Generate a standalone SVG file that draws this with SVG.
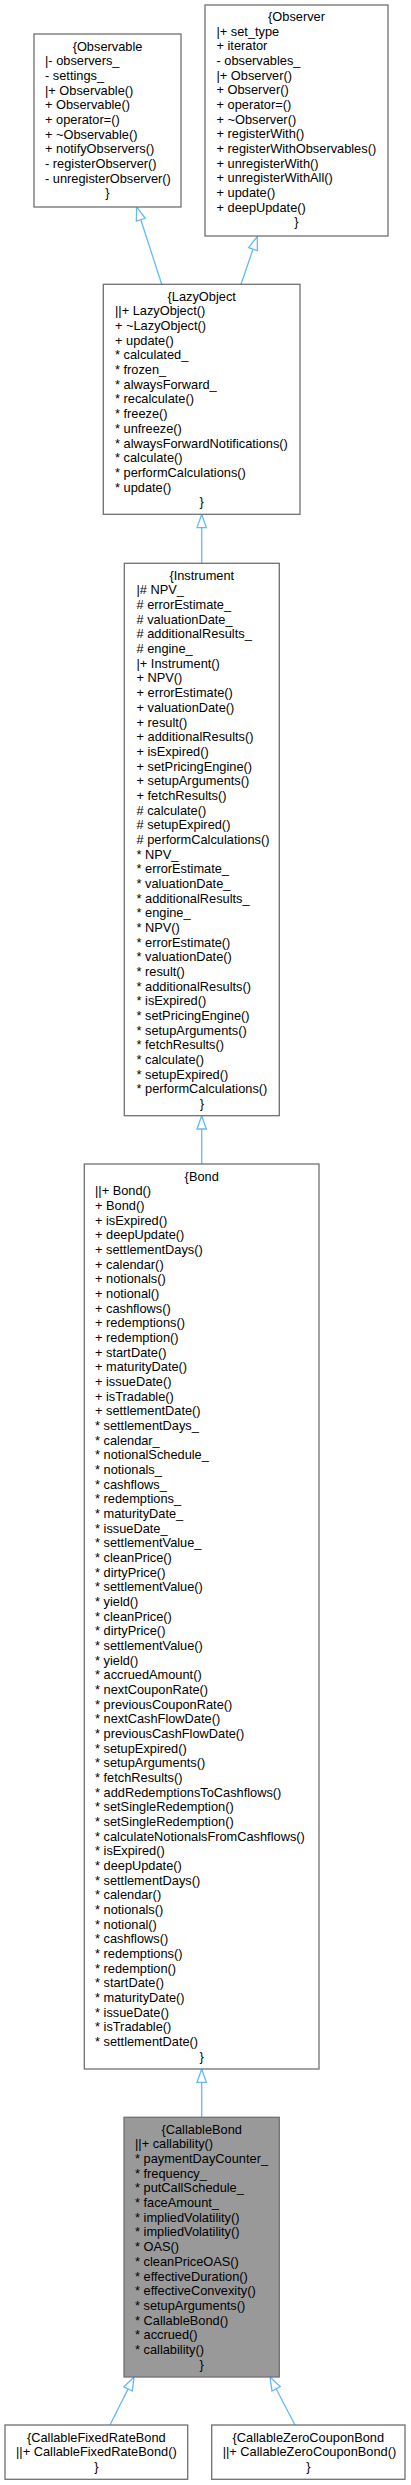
<svg xmlns="http://www.w3.org/2000/svg" width="411" height="2485" viewBox="0 0 411 2485">
<style>
.box{fill:#ffffff;stroke:#707070;stroke-width:1.3}
.cur{fill:#999999;stroke:#707070;stroke-width:1.3}
.t{font-family:"Liberation Sans",Arial,sans-serif;font-size:12.8px;fill:#000000}
.c{text-anchor:middle}
.e{fill:none;stroke:#63B8FF;stroke-width:1.3}
</style>
<defs>
<marker id="inh" markerUnits="userSpaceOnUse" markerWidth="16" markerHeight="12" refX="0" refY="4.67" orient="auto" overflow="visible">
<path d="M0,0 L13.3,4.67 L0,9.34 Z" fill="#ffffff" stroke="#63B8FF" stroke-width="1.3"/>
</marker>
</defs>
<rect width="411" height="2485" fill="#ffffff"/>
<g id="connectors">
<path class="e" d="M161.7,284.3 L140.8,219.7" marker-end="url(#inh)"/>
<path class="e" d="M241,284.3 L253,249.1" marker-end="url(#inh)"/>
<path class="e" d="M201.7,563.3 L201.7,527.6" marker-end="url(#inh)"/>
<path class="e" d="M201.7,1164 L201.7,1129" marker-end="url(#inh)"/>
<path class="e" d="M201.7,2117.3 L201.7,2082.3" marker-end="url(#inh)"/>
<path class="e" d="M110,2425 L128.1,2388.9" marker-end="url(#inh)"/>
<path class="e" d="M295,2425 L276.1,2388.8" marker-end="url(#inh)"/>
</g>
<g id="Observable">
<rect class="box" x="34" y="34" width="147" height="173"/>
<text class="t"><tspan class="c" x="107.5" y="50.5">{Observable</tspan><tspan x="45" dy="14.67">|- observers_</tspan><tspan x="45" dy="14.67">- settings_</tspan><tspan x="45" dy="14.67">|+ Observable()</tspan><tspan x="45" dy="14.67">+ Observable()</tspan><tspan x="45" dy="14.67">+ operator=()</tspan><tspan x="45" dy="14.67">+ ~Observable()</tspan><tspan x="45" dy="14.67">+ notifyObservers()</tspan><tspan x="45" dy="14.67">- registerObserver()</tspan><tspan x="45" dy="14.67">- unregisterObserver()</tspan><tspan class="c" x="107.5" dy="14.67">}</tspan></text>
</g>
<g id="Observer">
<rect class="box" x="205" y="5" width="183" height="231"/>
<text class="t"><tspan class="c" x="296.5" y="21">{Observer</tspan><tspan x="216.5" dy="14.67">|+ set_type</tspan><tspan x="216.5" dy="14.67">+ iterator</tspan><tspan x="216.5" dy="14.67">- observables_</tspan><tspan x="216.5" dy="14.67">|+ Observer()</tspan><tspan x="216.5" dy="14.67">+ Observer()</tspan><tspan x="216.5" dy="14.67">+ operator=()</tspan><tspan x="216.5" dy="14.67">+ ~Observer()</tspan><tspan x="216.5" dy="14.67">+ registerWith()</tspan><tspan x="216.5" dy="14.67">+ registerWithObservables()</tspan><tspan x="216.5" dy="14.67">+ unregisterWith()</tspan><tspan x="216.5" dy="14.67">+ unregisterWithAll()</tspan><tspan x="216.5" dy="14.67">+ update()</tspan><tspan x="216.5" dy="14.67">+ deepUpdate()</tspan><tspan class="c" x="296.5" dy="14.67">}</tspan></text>
</g>
<g id="LazyObject">
<rect class="box" x="103.3" y="284.3" width="196.7" height="230"/>
<text class="t"><tspan class="c" x="201.7" y="300.8">{LazyObject</tspan><tspan x="115" dy="14.67">||+ LazyObject()</tspan><tspan x="115" dy="14.67">+ ~LazyObject()</tspan><tspan x="115" dy="14.67">+ update()</tspan><tspan x="115" dy="14.67">* calculated_</tspan><tspan x="115" dy="14.67">* frozen_</tspan><tspan x="115" dy="14.67">* alwaysForward_</tspan><tspan x="115" dy="14.67">* recalculate()</tspan><tspan x="115" dy="14.67">* freeze()</tspan><tspan x="115" dy="14.67">* unfreeze()</tspan><tspan x="115" dy="14.67">* alwaysForwardNotifications()</tspan><tspan x="115" dy="14.67">* calculate()</tspan><tspan x="115" dy="14.67">* performCalculations()</tspan><tspan x="115" dy="14.67">* update()</tspan><tspan class="c" x="201.7" dy="14.67">}</tspan></text>
</g>
<g id="Instrument">
<rect class="box" x="124.3" y="563.3" width="155" height="552.4"/>
<text class="t"><tspan class="c" x="201.8" y="579.8">{Instrument</tspan><tspan x="136.5" dy="14.67">|# NPV_</tspan><tspan x="136.5" dy="14.67"># errorEstimate_</tspan><tspan x="136.5" dy="14.67"># valuationDate_</tspan><tspan x="136.5" dy="14.67"># additionalResults_</tspan><tspan x="136.5" dy="14.67"># engine_</tspan><tspan x="136.5" dy="14.67">|+ Instrument()</tspan><tspan x="136.5" dy="14.67">+ NPV()</tspan><tspan x="136.5" dy="14.67">+ errorEstimate()</tspan><tspan x="136.5" dy="14.67">+ valuationDate()</tspan><tspan x="136.5" dy="14.67">+ result()</tspan><tspan x="136.5" dy="14.67">+ additionalResults()</tspan><tspan x="136.5" dy="14.67">+ isExpired()</tspan><tspan x="136.5" dy="14.67">+ setPricingEngine()</tspan><tspan x="136.5" dy="14.67">+ setupArguments()</tspan><tspan x="136.5" dy="14.67">+ fetchResults()</tspan><tspan x="136.5" dy="14.67"># calculate()</tspan><tspan x="136.5" dy="14.67"># setupExpired()</tspan><tspan x="136.5" dy="14.67"># performCalculations()</tspan><tspan x="136.5" dy="14.67">* NPV_</tspan><tspan x="136.5" dy="14.67">* errorEstimate_</tspan><tspan x="136.5" dy="14.67">* valuationDate_</tspan><tspan x="136.5" dy="14.67">* additionalResults_</tspan><tspan x="136.5" dy="14.67">* engine_</tspan><tspan x="136.5" dy="14.67">* NPV()</tspan><tspan x="136.5" dy="14.67">* errorEstimate()</tspan><tspan x="136.5" dy="14.67">* valuationDate()</tspan><tspan x="136.5" dy="14.67">* result()</tspan><tspan x="136.5" dy="14.67">* additionalResults()</tspan><tspan x="136.5" dy="14.67">* isExpired()</tspan><tspan x="136.5" dy="14.67">* setPricingEngine()</tspan><tspan x="136.5" dy="14.67">* setupArguments()</tspan><tspan x="136.5" dy="14.67">* fetchResults()</tspan><tspan x="136.5" dy="14.67">* calculate()</tspan><tspan x="136.5" dy="14.67">* setupExpired()</tspan><tspan x="136.5" dy="14.67">* performCalculations()</tspan><tspan class="c" x="201.8" dy="14.67">}</tspan></text>
</g>
<g id="Bond">
<rect class="box" x="84.3" y="1164" width="234.7" height="905"/>
<text class="t"><tspan class="c" x="201.7" y="1180.5">{Bond</tspan><tspan x="95" dy="14.67">||+ Bond()</tspan><tspan x="95" dy="14.67">+ Bond()</tspan><tspan x="95" dy="14.67">+ isExpired()</tspan><tspan x="95" dy="14.67">+ deepUpdate()</tspan><tspan x="95" dy="14.67">+ settlementDays()</tspan><tspan x="95" dy="14.67">+ calendar()</tspan><tspan x="95" dy="14.67">+ notionals()</tspan><tspan x="95" dy="14.67">+ notional()</tspan><tspan x="95" dy="14.67">+ cashflows()</tspan><tspan x="95" dy="14.67">+ redemptions()</tspan><tspan x="95" dy="14.67">+ redemption()</tspan><tspan x="95" dy="14.67">+ startDate()</tspan><tspan x="95" dy="14.67">+ maturityDate()</tspan><tspan x="95" dy="14.67">+ issueDate()</tspan><tspan x="95" dy="14.67">+ isTradable()</tspan><tspan x="95" dy="14.67">+ settlementDate()</tspan><tspan x="95" dy="14.67">* settlementDays_</tspan><tspan x="95" dy="14.67">* calendar_</tspan><tspan x="95" dy="14.67">* notionalSchedule_</tspan><tspan x="95" dy="14.67">* notionals_</tspan><tspan x="95" dy="14.67">* cashflows_</tspan><tspan x="95" dy="14.67">* redemptions_</tspan><tspan x="95" dy="14.67">* maturityDate_</tspan><tspan x="95" dy="14.67">* issueDate_</tspan><tspan x="95" dy="14.67">* settlementValue_</tspan><tspan x="95" dy="14.67">* cleanPrice()</tspan><tspan x="95" dy="14.67">* dirtyPrice()</tspan><tspan x="95" dy="14.67">* settlementValue()</tspan><tspan x="95" dy="14.67">* yield()</tspan><tspan x="95" dy="14.67">* cleanPrice()</tspan><tspan x="95" dy="14.67">* dirtyPrice()</tspan><tspan x="95" dy="14.67">* settlementValue()</tspan><tspan x="95" dy="14.67">* yield()</tspan><tspan x="95" dy="14.67">* accruedAmount()</tspan><tspan x="95" dy="14.67">* nextCouponRate()</tspan><tspan x="95" dy="14.67">* previousCouponRate()</tspan><tspan x="95" dy="14.67">* nextCashFlowDate()</tspan><tspan x="95" dy="14.67">* previousCashFlowDate()</tspan><tspan x="95" dy="14.67">* setupExpired()</tspan><tspan x="95" dy="14.67">* setupArguments()</tspan><tspan x="95" dy="14.67">* fetchResults()</tspan><tspan x="95" dy="14.67">* addRedemptionsToCashflows()</tspan><tspan x="95" dy="14.67">* setSingleRedemption()</tspan><tspan x="95" dy="14.67">* setSingleRedemption()</tspan><tspan x="95" dy="14.67">* calculateNotionalsFromCashflows()</tspan><tspan x="95" dy="14.67">* isExpired()</tspan><tspan x="95" dy="14.67">* deepUpdate()</tspan><tspan x="95" dy="14.67">* settlementDays()</tspan><tspan x="95" dy="14.67">* calendar()</tspan><tspan x="95" dy="14.67">* notionals()</tspan><tspan x="95" dy="14.67">* notional()</tspan><tspan x="95" dy="14.67">* cashflows()</tspan><tspan x="95" dy="14.67">* redemptions()</tspan><tspan x="95" dy="14.67">* redemption()</tspan><tspan x="95" dy="14.67">* startDate()</tspan><tspan x="95" dy="14.67">* maturityDate()</tspan><tspan x="95" dy="14.67">* issueDate()</tspan><tspan x="95" dy="14.67">* isTradable()</tspan><tspan x="95" dy="14.67">* settlementDate()</tspan><tspan class="c" x="201.7" dy="14.67">}</tspan></text>
</g>
<g id="CallableBond">
<rect class="cur" x="124" y="2117.3" width="155.3" height="259.7"/>
<text class="t"><tspan class="c" x="201.7" y="2133.8">{CallableBond</tspan><tspan x="135" dy="14.67">||+ callability()</tspan><tspan x="135" dy="14.67">* paymentDayCounter_</tspan><tspan x="135" dy="14.67">* frequency_</tspan><tspan x="135" dy="14.67">* putCallSchedule_</tspan><tspan x="135" dy="14.67">* faceAmount_</tspan><tspan x="135" dy="14.67">* impliedVolatility()</tspan><tspan x="135" dy="14.67">* impliedVolatility()</tspan><tspan x="135" dy="14.67">* OAS()</tspan><tspan x="135" dy="14.67">* cleanPriceOAS()</tspan><tspan x="135" dy="14.67">* effectiveDuration()</tspan><tspan x="135" dy="14.67">* effectiveConvexity()</tspan><tspan x="135" dy="14.67">* setupArguments()</tspan><tspan x="135" dy="14.67">* CallableBond()</tspan><tspan x="135" dy="14.67">* accrued()</tspan><tspan x="135" dy="14.67">* callability()</tspan><tspan class="c" x="201.7" dy="14.67">}</tspan></text>
</g>
<g id="CallableFixedRateBond">
<rect class="box" x="5" y="2425" width="182.7" height="54.3"/>
<text class="t"><tspan class="c" x="96.3" y="2441.5">{CallableFixedRateBond</tspan><tspan x="16" dy="14.67">||+ CallableFixedRateBond()</tspan><tspan class="c" x="96.3" dy="14.67">}</tspan></text>
</g>
<g id="CallableZeroCouponBond">
<rect class="box" x="211.7" y="2425" width="193.3" height="54.3"/>
<text class="t"><tspan class="c" x="308.3" y="2441.5">{CallableZeroCouponBond</tspan><tspan x="222.7" dy="14.67">||+ CallableZeroCouponBond()</tspan><tspan class="c" x="308.3" dy="14.67">}</tspan></text>
</g>
</svg>
